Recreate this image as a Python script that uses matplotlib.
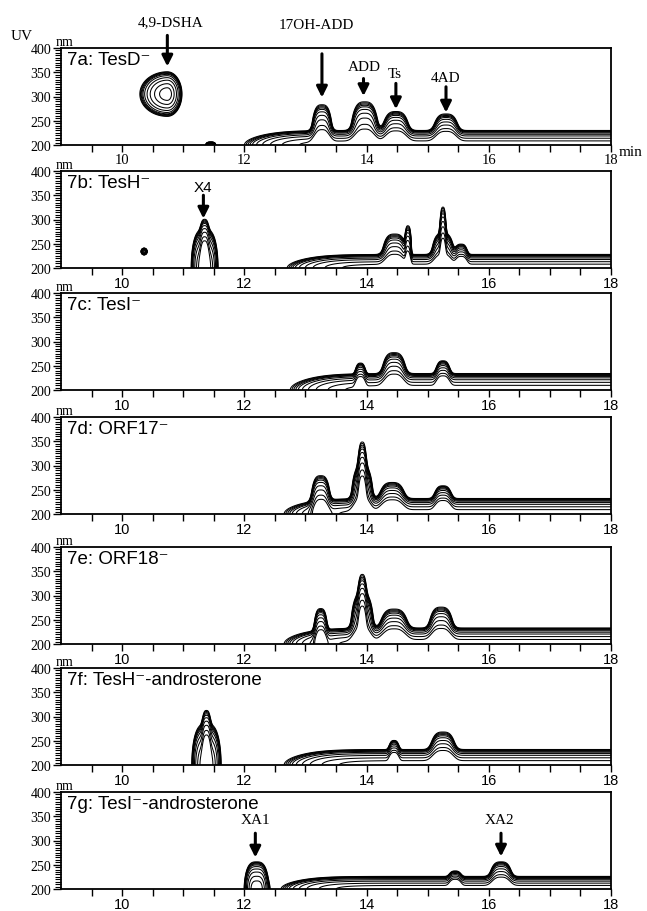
import numpy as np
import matplotlib.pyplot as plt

# ---- data ---------------------------------------------------------------
PANEL_LABELS = [
    "7a: TesD\u207b", "7b: TesH\u207b", "7c: TesI\u207b", "7d: ORF17\u207b",
    "7e: ORF18\u207b", "7f: TesH\u207b-androsterone", "7g: TesI\u207b-androsterone",
]

# peak retention times (min) per panel
PEAK_TIMES = [
    [10.74, 11.45, 13.27, 13.97, 14.48, 15.30],
    [10.36, 11.35, 11.35, 14.46, 14.68, 15.25, 15.25, 15.55],
    [13.90, 14.45, 15.25],
    [13.25, 13.93, 13.93, 14.42, 15.25],
    [13.25, 13.93, 13.93, 14.45, 15.22],
    [11.38, 11.38, 14.45, 15.25],
    [12.20, 15.45, 16.20],
]
# wavelength reached by the outermost contour of each peak (nm)
PEAK_TOPS = [
    [351, 206, 283, 289, 269, 264],
    [241, 280, 292, 270, 286, 272, 325, 249],
    [255, 277, 260],
    [279, 300, 345, 265, 258],
    [273, 305, 337, 272, 276],
    [285, 306, 250, 268],
    [256, 236, 256],
]
# half width of each peak at its base, late side (min)
PEAK_WIDTHS = [
    [0.24, 0.08, 0.18, 0.24, 0.24, 0.23],
    [0.05, 0.22, 0.08, 0.22, 0.06, 0.20, 0.06, 0.12],
    [0.10, 0.22, 0.14],
    [0.17, 0.19, 0.08, 0.24, 0.17],
    [0.12, 0.20, 0.08, 0.26, 0.22],
    [0.24, 0.08, 0.10, 0.23],
    [0.20, 0.12, 0.20],
]
# half width on the early side (min)
PEAK_LEFT_WIDTHS = [
    [0.45, 0.08, 0.18, 0.24, 0.24, 0.23],
    [0.05, 0.22, 0.08, 0.22, 0.06, 0.20, 0.06, 0.12],
    [0.10, 0.22, 0.14],
    [0.17, 0.19, 0.08, 0.24, 0.17],
    [0.12, 0.20, 0.08, 0.26, 0.22],
    [0.24, 0.08, 0.10, 0.23],
    [0.20, 0.12, 0.20],
]
# wavelength of the peak centre (nm); 200 = elution band from the baseline
PEAK_CENTERS = [
    [305, 200, 200, 200, 200, 200],
    [234, 200, 200, 200, 200, 200, 200, 200],
    [200, 200, 200],
    [200, 200, 200, 200, 200],
    [200, 200, 200, 200, 200],
    [200, 200, 200, 200],
    [200, 200, 200],
]
# solvent baseline: start time (min) and upper wavelength (nm)
BASE_START = [12.0, 12.7, 12.75, 12.65, 12.65, 12.65, 12.6]
BASE_TOP = [230, 228, 234, 232, 233, 232, 226]

# labelled arrows: panel, text, time, text y, arrow start, arrow tip (nm)
ARROW_PANEL = [0, 0, 0, 0, 0, 1, 6, 6]
ARROW_TEXT = ["4,9-DSHA", "17OH-ADD", "ADD", "Ts", "4AD", "X4", "XA1", "XA2"]
ARROW_T = [10.74, 13.27, 13.95, 14.48, 15.30, 11.33, 12.18, 16.20]
ARROW_TEXT_T = [10.80, 13.18, 13.96, 14.46, 15.30, 11.32, 12.18, 16.18]
ARROW_TEXT_Y = [454, 449, 361, 347, 340, 367, 344, 344]
ARROW_FROM = [426, 388, 337, 327, 320, 350, 315, 315]
ARROW_TO = [362, 298, 301, 274, 267, 302, 265, 267]

PANEL_TOPS_PX = [49, 172, 294, 418, 548, 669, 793]
PANEL_H_PX = 97
W_PX, H_PX = 647, 912
LEFT_PX, RIGHT_PX = 61, 611

CONTOUR_LEVELS = [1.0, 1.1, 1.22, 1.36, 1.55, 1.9, 2.5, 3.4, 4.8, 6.3]

SERIF = ["Liberation Serif", "DejaVu Serif"]
SANS = ["Liberation Sans", "DejaVu Sans"]


def build_field(tt, ww, i):
    amp = np.e ** 2
    z = np.zeros_like(tt)
    for t0, top, hw, hl, c in zip(PEAK_TIMES[i], PEAK_TOPS[i], PEAK_WIDTHS[i],
                                  PEAK_LEFT_WIDTHS[i], PEAK_CENTERS[i]):
        sw = (top - c) / 2.0
        if c == 200:
            # elution band rising from the bottom: steep sides, round top
            st = np.where(tt < t0, hl, hw) / 4.0 ** (1 / 3)
            ut = np.abs((tt - t0) / st) ** 3
        else:
            st = np.where(tt < t0, hl, hw) / 2.0
            ut = ((tt - t0) / st) ** 2
        z += amp * np.exp(-0.5 * ut - 0.5 * ((ww - c) / sw) ** 2)
    wb = 0.25
    tb = BASE_START[i] + 1.86 * wb
    ramp = 1.0 / (1.0 + np.exp(-(tt - tb) / wb))
    z += amp * ramp * np.exp(-0.5 * ((ww - 200) / ((BASE_TOP[i] - 200) / 2.0)) ** 2)
    return z


def main():
    fig = plt.figure(figsize=(W_PX / 100, H_PX / 100), dpi=100)
    t = np.linspace(9, 18, 1201)
    w = np.linspace(200, 400, 501)
    tt, ww = np.meshgrid(t, w)

    for i, label in enumerate(PANEL_LABELS):
        top = PANEL_TOPS_PX[i]
        ax = fig.add_axes([LEFT_PX / W_PX, 1 - (top + PANEL_H_PX) / H_PX,
                           (RIGHT_PX - LEFT_PX) / W_PX, PANEL_H_PX / H_PX])
        z = build_field(tt, ww, i)
        ax.contour(tt, ww, z, levels=CONTOUR_LEVELS, colors="k", linewidths=0.75)

        ax.set_xlim(9, 18)
        ax.set_ylim(200, 400)
        ax.set_xticks([10, 12, 14, 16, 18])
        ax.set_xticks(np.arange(9.5, 18, 0.5), minor=True)
        ax.set_yticks([200, 250, 300, 350, 400])
        ax.set_yticks(np.arange(200, 401, 5), minor=True)
        ax.tick_params(axis="y", which="major", direction="out", length=6,
                       width=1.0, pad=1, labelsize=10)
        ax.tick_params(axis="x", which="major", direction="out", length=5,
                       width=1.0, pad=1, labelsize=10.5)
        ax.tick_params(axis="y", which="minor", direction="out", length=4, width=0.8)
        ax.tick_params(axis="x", which="minor", direction="out", length=5, width=1.0)
        for lab in ax.get_yticklabels():
            lab.set_family(SERIF)
        for lab in ax.get_xticklabels():
            lab.set_family(SERIF if i == 0 else SANS)
        for sp in ax.spines.values():
            sp.set_linewidth(1.3)

        ax.text(0.011, 0.965, label, transform=ax.transAxes, ha="left", va="top",
                fontsize=13.5, family=SANS)
        ax.text(0.006, 0.995, "nm", transform=ax.transAxes, ha="center", va="bottom",
                fontsize=10, family=SERIF)

        for k, p in enumerate(ARROW_PANEL):
            if p != i:
                continue
            ax.annotate("", xy=(ARROW_T[k], ARROW_TO[k]),
                        xytext=(ARROW_T[k], ARROW_FROM[k]),
                        arrowprops=dict(arrowstyle="-|>", color="k", lw=2.2,
                                        mutation_scale=16, shrinkA=0, shrinkB=0),
                        annotation_clip=False)
            fam = SANS if ARROW_TEXT[k] == "X4" else SERIF
            ax.text(ARROW_TEXT_T[k], ARROW_TEXT_Y[k], ARROW_TEXT[k], ha="center",
                    va="center", fontsize=11, family=fam, clip_on=False)

        if i == 0:
            ax.text(18.12, 200, "min", ha="left", va="top", fontsize=11,
                    family=SERIF, clip_on=False)

    fig.text(22 / W_PX, 1 - 37 / H_PX, "UV", ha="center", va="center",
             fontsize=11, family=SERIF)
    fig.savefig("out.png", dpi=100, facecolor="white")


if __name__ == "__main__":
    main()
